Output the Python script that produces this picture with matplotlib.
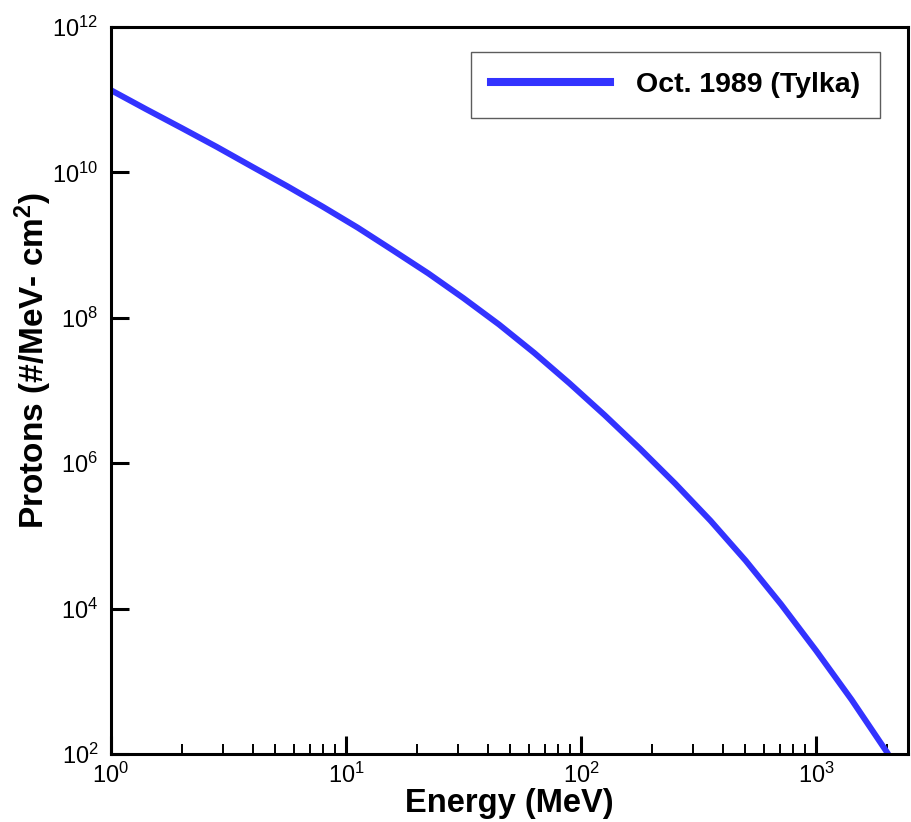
import math
import matplotlib
matplotlib.use("Agg")
import matplotlib.pyplot as plt
from matplotlib.ticker import FixedLocator, NullLocator, LogLocator, FuncFormatter, NullFormatter

plt.rcParams["font.family"] = ["Liberation Sans", "DejaVu Sans"]
plt.rcParams["mathtext.fontset"] = "custom"
plt.rcParams["mathtext.rm"] = "Liberation Sans"
plt.rcParams["mathtext.bf"] = "Liberation Sans:bold"

# Oct. 1989 proton spectrum
energy_mev = [1.0, 1.41, 2.0, 2.82, 3.98, 5.62, 7.94, 11.2, 15.8, 22.4, 31.6,
              44.7, 63.1, 89.1, 126.0, 178.0, 251.0, 355.0, 501.0, 708.0,
              1000.0, 1413.0, 1995.0]
protons = [1.35e11, 7.4e10, 4.07e10, 2.24e10, 1.2e10, 6.46e9, 3.39e9, 1.74e9,
           8.5e8, 4.07e8, 1.86e8, 8.1e7, 3.3e7, 1.26e7, 4.57e6, 1.58e6,
           5.25e5, 1.62e5, 4.57e4, 1.15e4, 2.63e3, 5.6e2, 1.07e2]
series_label = "Oct. 1989 (Tylka)"
y_ticks = [1e2, 1e4, 1e6, 1e8, 1e10, 1e12]

fig = plt.figure(figsize=(9.12, 8.22), dpi=100)
ax = fig.add_axes([0.1217, 0.0827, 0.8736, 0.8845])

ax.plot(energy_mev, protons, color="#3333ff", linewidth=4.3, label=series_label)

ax.set_xscale("log")
ax.set_yscale("log")
ax.set_xlim(1, 2450)
ax.set_ylim(1e2, 1e12)

ax.yaxis.set_major_locator(FixedLocator(y_ticks))
ax.yaxis.set_minor_locator(NullLocator())
ax.xaxis.set_major_locator(LogLocator(base=10))
ax.xaxis.set_minor_locator(LogLocator(base=10, subs=range(2, 10)))
ax.xaxis.set_minor_formatter(NullFormatter())


def pow10(v, pos):
    return r"$\mathregular{10^{%d}}$" % round(math.log10(v))


ax.xaxis.set_major_formatter(FuncFormatter(pow10))
ax.yaxis.set_major_formatter(FuncFormatter(pow10))

for s in ax.spines.values():
    s.set_linewidth(2.2)
ax.tick_params(which="both", direction="in", top=False, right=False, width=2.2)
ax.tick_params(which="major", length=13, labelsize=17)
ax.tick_params(which="minor", length=7, width=1.4)
ax.tick_params(axis="x", which="major", pad=6)
ax.tick_params(axis="y", which="major", pad=9)

ax.set_xlabel("Energy (MeV)", fontsize=23.5, fontweight="bold", labelpad=0)
ax.set_ylabel(r"Protons (#/MeV- cm$\mathregular{^2}$)", fontsize=24, fontweight="bold")
ax.yaxis.set_label_coords(-0.071, 0.542)

leg = ax.legend(loc="upper right", bbox_to_anchor=(0.965, 0.9656),
                prop={"weight": "bold", "size": 20.5}, frameon=True, fancybox=False,
                handlelength=4.2, handletextpad=0.9, borderpad=0.7, borderaxespad=0)
leg.get_frame().set_edgecolor("#333333")
leg.get_frame().set_linewidth(1.0)
for h in leg.get_lines():
    h.set_linewidth(5.8)

fig.savefig("out.png", dpi=100)
